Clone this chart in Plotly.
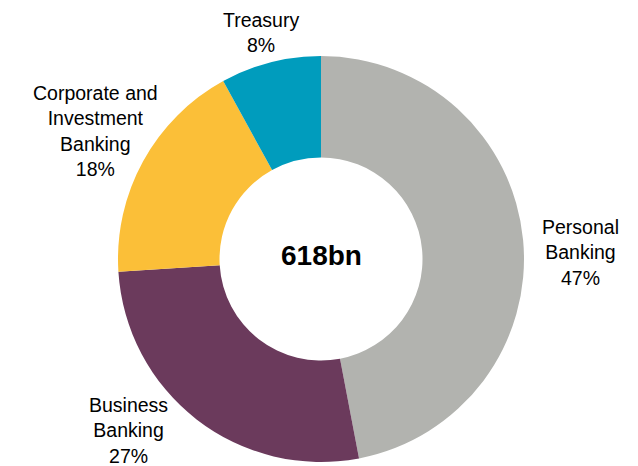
import plotly.graph_objects as go

segments = ["Personal Banking", "Business Banking", "Corporate and Investment Banking", "Treasury"]
label_lines = ["Personal<br>Banking", "Business<br>Banking", "Corporate and<br>Investment<br>Banking", "Treasury"]
values = [47, 27, 18, 8]
colors = ["#B2B3AF", "#6B3A5C", "#FBBF38", "#009CBD"]
center_text = "618bn"

W, H = 638, 466
OFF = 8  # default page body margin in the browser
cx, cy, R = 321 - OFF, 259 - OFF, 203
# label block centres (layout, pixels from top-left of the window)
label_xy = [(580, 253), (128, 430), (95, 131), (261, 32)]
FONT = "Liberation Sans, Arial, sans-serif"

fig = go.Figure(go.Pie(
    labels=segments,
    values=values,
    marker=dict(colors=colors, line=dict(width=0)),
    hole=0.5,
    sort=False,
    direction="clockwise",
    rotation=0,
    textposition="none",
    hoverinfo="label+percent",
    showlegend=False,
    domain=dict(x=[(cx - R) / W, (cx + R) / W], y=[(H - cy - R) / H, (H - cy + R) / H]),
))

total = sum(values)
for txt, v, (px, py) in zip(label_lines, values, label_xy):
    fig.add_annotation(
        text=f"{txt}<br>{round(100 * v / total)}%",
        x=(px - OFF) / W, y=1 - (py - OFF) / H, xref="paper", yref="paper",
        xanchor="center", yanchor="middle", align="center", borderpad=0,
        showarrow=False, font=dict(family=FONT, size=19.5, color="#000000"),
    )

fig.add_annotation(
    text="<b>" + center_text + "</b>", x=cx / W, y=1 - (255 - OFF) / H, xref="paper", yref="paper",
    xanchor="center", yanchor="middle",
    showarrow=False, font=dict(family=FONT, size=28, color="#000000"),
)

fig.update_layout(
    width=W, height=H,
    margin=dict(l=0, r=0, t=0, b=0),
    paper_bgcolor="white", plot_bgcolor="white",
)

fig.write_html("out.html")
